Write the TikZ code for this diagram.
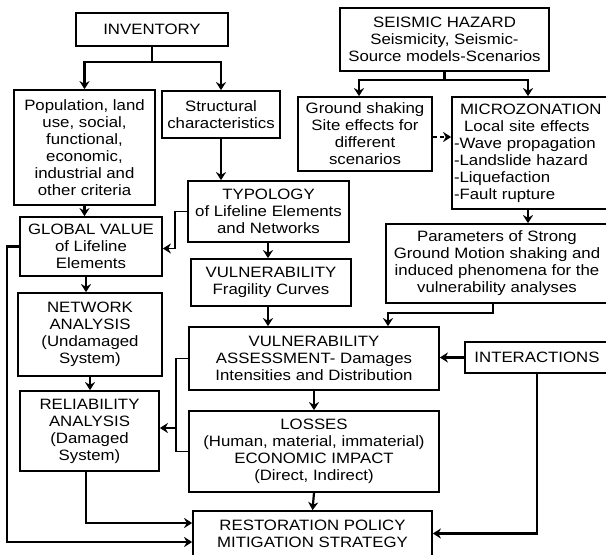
\documentclass[tikz,border=0pt]{standalone}
\usepackage{fontspec}
\setmainfont{Liberation Sans}[FakeStretch=1.12]
\usetikzlibrary{arrows.meta}
\tikzset{>={Stealth[length=8pt,width=10pt,inset=2.5pt]}}
\tikzset{box/.style={draw, line width=1.7pt, align=center, inner sep=0pt,
    font=\fontsize{15}{17}\selectfont}}
\tikzset{link/.style={->, line width=2.2pt}}
\tikzset{thinlink/.style={line width=1.4pt}}

\begin{document}
\begin{tikzpicture}[x=1pt,y=-1pt]
    \useasboundingbox (0,0) rectangle (606,555);

    \node (inv) at (152,29.5) [box, minimum width=152pt, minimum height=33pt] {INVENTORY};
    \node (pop) at (84.5,147.5) [box, minimum width=141pt, minimum height=115pt]
      {Population, land\\use, social,\\functional,\\economic,\\industrial and\\other criteria};
    \node (struc) at (221,114.5) [box, minimum width=118pt, minimum height=47pt]
      {Structural\\characteristics};
    \node (seis) at (444.5,39.5) [box, minimum width=209pt, minimum height=63pt]
      {SEISMIC HAZARD\\Seismicity, Seismic-\\Source models-Scenarios};
    \node (ground) at (365,134) [box, minimum width=134pt, minimum height=74pt]
      {Ground shaking\\Site effects for\\different\\scenarios};
    \node (micro) at (530.5,153) [box, align=left, text width=153pt, inner xsep=2pt, minimum height=112pt]
      {\hspace*{6pt}MICROZONATION\\\hspace*{10pt}Local site effects\\-Wave propagation\\-Landslide hazard\\-Liquefaction\\-Fault rupture};
    \node (typo) at (268.5,211.5) [box, minimum width=161pt, minimum height=61pt]
      {TYPOLOGY\\of Lifeline Elements\\and Networks};
    \node (glob) at (91,246.5) [box, minimum width=142pt, minimum height=59pt]
      {GLOBAL VALUE\\of Lifeline\\Elements};
    \node (frag) at (271,282.5) [box, minimum width=160pt, minimum height=47pt]
      {VULNERABILITY\\Fragility Curves};
    \node (param) at (497,263.5) [box, minimum width=222pt, minimum height=79pt]
      {Parameters of Strong\\Ground Motion shaking and\\induced phenomena for the\\vulnerability analyses};
    \node (net) at (90,334.5) [box, minimum width=144pt, minimum height=83pt]
      {NETWORK\\ANALYSIS\\(Undamaged\\System)};
    \node (vass) at (314,358.5) [box, minimum width=250pt, minimum height=63pt]
      {VULNERABILITY\\ASSESSMENT- Damages\\Intensities and Distribution};
    \node (inter) at (537,357.5) [box, minimum width=144pt, minimum height=31pt] {INTERACTIONS};
    \node (rel) at (89.5,431) [box, minimum width=139pt, minimum height=80pt]
      {RELIABILITY\\ANALYSIS\\(Damaged\\System)};
    \node (loss) at (314,451.5) [box, minimum width=250pt, minimum height=81pt]
      {LOSSES\\(Human, material, immaterial)\\ECONOMIC IMPACT\\(Direct, Indirect)};
    \node (rest) at (312.5,533.5) [box, minimum width=239pt, minimum height=45pt]
      {RESTORATION POLICY\\MITIGATION STRATEGY};

    % inventory branch
    \draw[link] (inv.south) -- ++(0,15) -| (pop.north);
    \draw[link] (inv.south) -- ++(0,15) -| (struc.north);
    \draw[link] (pop.south) -- (pop.south |- glob.north);
    \draw[link] ([xshift=-5pt]glob.south) -- ([xshift=-5pt]glob.south |- net.north);
    \draw[link] (net.south) -- (net.south |- rel.north);
    \draw[link] (struc.south) -- (struc.south |- typo.north);
    \draw[link, thinlink] (typo.west) -- ++(-12,0) |- ([yshift=-2pt]glob.east);
    \draw[link] ([xshift=-0.5pt]typo.south) -- ([xshift=-0.5pt]typo.south |- frag.north);
    \draw[link] ([xshift=-3pt]frag.south) -- ([xshift=-3pt]frag.south |- vass.north);

    % hazard branch
    \draw[link] (seis.south) -- ++(0,8) -| ([xshift=-6pt]ground.north);
    \draw[link] (seis.south) -- ++(0,8) -| ([xshift=-2.5pt]micro.north);
    \draw[link, dash pattern=on 4pt off 3pt] ([yshift=-3pt]ground.east) -- ([yshift=-3pt]ground.east -| micro.west);
    \draw[link] ([xshift=-2.5pt]micro.south) -- ([xshift=-2.5pt]micro.south |- param.north);
    \draw[link] ([xshift=-4pt]param.south) -- ++(0,9) -| ([xshift=74pt]vass.north);

    % assessment and losses
    \draw[link] (inter.west) -- (inter.west -| vass.east);
    \draw[link] (vass.south) -- (loss.north);
    \draw[link] (loss.south) -- (rest.north);
    \coordinate (vl) at ([xshift=-12pt]vass.west);
    \draw[thinlink] (vass.west) -- (vl) |- (loss.west);
    \draw[link] ([yshift=3pt]vl |- rel.east) -- ([yshift=3pt]rel.east);

    % restoration
    \draw[link] (glob.west) -- ++(-12,0) |- ([yshift=-8.5pt]rest.west);
    \draw[link] ([xshift=-3.5pt]rel.south) |- ([yshift=10.5pt]rest.west);
    \draw[link] (inter.south) |- (rest.east);
\end{tikzpicture}
\end{document}
